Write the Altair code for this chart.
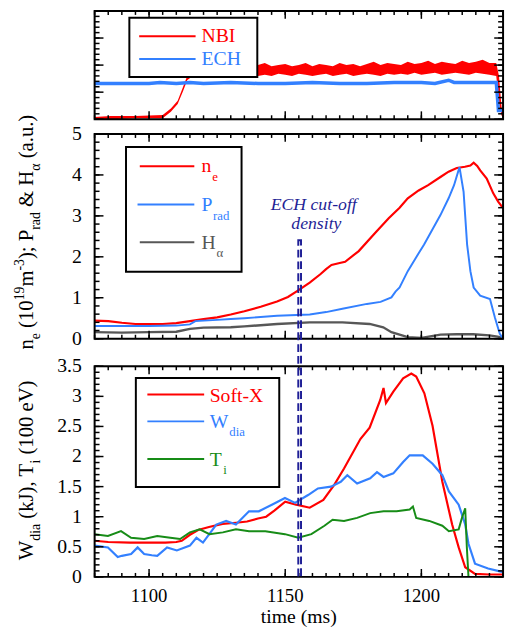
import altair as alt
import pandas as pd

FONT = "Liberation Serif"
RED, BLUE, GRAY, GREEN, NAVY = "#ff0000", "#3380ff", "#575757", "#178c17", "#1f1f96"

# ---------------- data ----------------
NBI_T = [1080, 1086, 1095, 1105, 1108, 1110.5, 1112.5, 1114, 1116,
         1117.5, 1120, 1122.5, 1125, 1127.5, 1130, 1132.5, 1135, 1137.5, 1140,
         1142.5, 1145, 1147.5, 1150, 1152.5, 1155, 1157.5, 1160, 1162.5, 1165,
         1167.5, 1170, 1172.5, 1175, 1177.5, 1180, 1182.5, 1185, 1187.5, 1190,
         1192.5, 1195, 1197.5, 1200, 1202.5, 1205, 1207.5, 1210, 1212.5, 1215,
         1217.5, 1220, 1222.5, 1225, 1227.5,
         1228.5, 1229.5, 1230]
NBI_LO = [0.00, 0.00, 0.01, 0.01, 0.07, 0.14, 0.26, 0.36, 0.40,
          0.41, 0.40, 0.42, 0.40, 0.41, 0.39, 0.41, 0.40, 0.42, 0.40,
          0.41, 0.40, 0.42, 0.41, 0.40, 0.42, 0.41, 0.40, 0.41, 0.42,
          0.40, 0.41, 0.42, 0.40, 0.41, 0.42, 0.41, 0.40, 0.42, 0.41,
          0.42, 0.41, 0.43, 0.41, 0.42, 0.43, 0.41, 0.42, 0.43, 0.42,
          0.41, 0.43, 0.42, 0.41, 0.40,
          0.15, 0.03, 0.02]
NBI_HI = [0.02, 0.03, 0.03, 0.04, 0.10, 0.17, 0.30, 0.40, 0.47,
          0.49, 0.51, 0.48, 0.50, 0.52, 0.49, 0.50, 0.51, 0.48, 0.50,
          0.52, 0.49, 0.50, 0.51, 0.49, 0.50, 0.52, 0.49, 0.51, 0.50,
          0.49, 0.52, 0.50, 0.51, 0.49, 0.51, 0.53, 0.50, 0.52, 0.51,
          0.50, 0.53, 0.51, 0.52, 0.54, 0.51, 0.53, 0.52, 0.51, 0.54,
          0.52, 0.53, 0.55, 0.52, 0.52,
          0.40, 0.10, 0.06]
ECH_T = [1080, 1090, 1100, 1104, 1110, 1115, 1120, 1130, 1140, 1150,
         1160, 1170, 1180, 1190, 1200, 1205, 1210, 1212, 1220, 1227.5,
         1228.3, 1230]
ECH_V = [0.33, 0.33, 0.33, 0.34, 0.33, 0.34, 0.33, 0.34, 0.33, 0.33,
         0.34, 0.33, 0.33, 0.34, 0.34, 0.33, 0.36, 0.34, 0.34, 0.34,
         0.08, 0.08]

NE_T = [1080, 1085, 1090, 1095, 1100, 1105, 1110, 1115, 1120, 1125,
        1130, 1135, 1141, 1147, 1151, 1154.5, 1159, 1163, 1165, 1167,
        1170, 1172, 1177, 1183, 1188, 1192, 1195, 1199, 1202.5, 1207,
        1210, 1213, 1216, 1218, 1219.2, 1220.5, 1221.6, 1224, 1226.4, 1228.2,
        1230]
NE_V = [0.44, 0.43, 0.39, 0.36, 0.36, 0.36, 0.38, 0.43, 0.48, 0.52,
        0.59, 0.67, 0.78, 0.91, 1.02, 1.17, 1.37, 1.58, 1.70, 1.80,
        1.85, 1.88, 2.14, 2.58, 2.94, 3.20, 3.43, 3.62, 3.75, 3.95,
        4.08, 4.17, 4.20, 4.23, 4.30, 4.22, 4.11, 3.91, 3.55, 3.35,
        3.19]
PRAD_T = [1080, 1090, 1100, 1110, 1115, 1117, 1125, 1130, 1135, 1147,
          1159, 1165, 1171, 1180, 1185, 1189, 1190.5, 1192, 1195, 1198,
          1201, 1204, 1207, 1210, 1212, 1214, 1215.5, 1216.8, 1218, 1219.2,
          1221.6, 1225.2, 1227, 1228.8, 1230]
PRAD_V = [0.31, 0.31, 0.31, 0.32, 0.35, 0.43, 0.46, 0.48, 0.50, 0.56,
          0.59, 0.65, 0.73, 0.85, 0.90, 1.01, 1.15, 1.25, 1.65, 1.98,
          2.30, 2.66, 3.02, 3.43, 3.75, 4.19, 3.59, 2.30, 1.65, 1.25,
          1.05, 0.97, 0.52, 0.12, 0.0]
HA_T = [1080, 1090, 1100, 1110, 1115, 1120, 1130, 1135, 1147, 1159,
        1171, 1181, 1186, 1189, 1195, 1200, 1207, 1213, 1219, 1225,
        1228, 1230]
HA_V = [0.16, 0.15, 0.16, 0.17, 0.24, 0.27, 0.28, 0.30, 0.36, 0.40,
        0.40, 0.36, 0.28, 0.16, 0.04, 0.02, 0.10, 0.11, 0.11, 0.08,
        0.05, 0.02]

SX_T = [1080, 1085, 1093, 1100, 1106, 1110, 1112, 1115, 1118, 1122,
        1127, 1132, 1136, 1140, 1143, 1146, 1150, 1154, 1159, 1164,
        1168, 1171.6, 1177.6, 1181, 1184.9, 1186.1, 1187, 1189.7, 1193.3, 1196.3,
        1198.1, 1201.1, 1204.1, 1207.7, 1211.3, 1213.7, 1216.1, 1219.7, 1225, 1230]
SX_V = [0.60, 0.58, 0.57, 0.57, 0.57, 0.58, 0.60, 0.70, 0.78, 0.83,
        0.88, 0.90, 0.92, 0.97, 1.00, 1.10, 1.25, 1.20, 1.15, 1.28,
        1.53, 1.80, 2.29, 2.48, 2.94, 3.14, 2.89, 3.08, 3.30, 3.38,
        3.33, 3.05, 2.51, 1.58, 0.87, 0.49, 0.16, 0.05, 0.04, 0.04]
WD_T = [1080, 1084.9, 1088.5, 1090, 1093.4, 1095.8, 1098.2, 1101, 1103, 1106.6,
        1110.2, 1115, 1117.4, 1119.8, 1124.7, 1128.3, 1131.9, 1136.7, 1140.3, 1145.1,
        1149.9, 1153.6, 1158.4, 1162, 1166.8, 1170.4, 1172.8, 1176.4, 1181.2, 1183.7,
        1186.1, 1189.7, 1193.3, 1195.7, 1200.5, 1204.1, 1207.7, 1210.1, 1213.7, 1216.1,
        1217.3, 1219.7, 1224.5, 1230]
WD_V = [0.52, 0.49, 0.33, 0.35, 0.38, 0.49, 0.38, 0.36, 0.35, 0.49,
        0.44, 0.52, 0.65, 0.57, 0.87, 0.93, 0.87, 1.09, 1.09, 1.20,
        1.31, 1.23, 1.36, 1.47, 1.50, 1.58, 1.69, 1.55, 1.64, 1.74,
        1.66, 1.72, 1.91, 2.02, 2.02, 1.88, 1.69, 1.42, 1.20, 0.87,
        0.55, 0.22, 0.14, 0.08]
TI_T = [1080, 1084.9, 1089.7, 1093.4, 1098.2, 1103, 1107.8, 1111.4, 1115, 1118.6,
        1122.2, 1127.1, 1131.9, 1136.7, 1142.7, 1149.9, 1154.8, 1159.6, 1164.4, 1167.4,
        1171.6, 1176.4, 1181.2, 1186.1, 1190.9, 1195.7, 1196.9, 1198.1, 1202.9, 1207.7,
        1210.1, 1213.7, 1214.9, 1216.1, 1216.7, 1217.3, 1230]
TI_V = [0.71, 0.68, 0.76, 0.65, 0.63, 0.68, 0.65, 0.63, 0.74, 0.79,
        0.71, 0.74, 0.79, 0.76, 0.76, 0.71, 0.65, 0.71, 0.85, 0.95,
        0.93, 0.98, 1.06, 1.09, 1.09, 1.12, 1.17, 0.98, 0.93, 0.85,
        0.76, 0.79, 0.98, 1.14, 0.49, 0.0, 0.0]

CUTOFF_T = [1154.8, 1155.8]

X_DOMAIN = [1080, 1230]
X_MINOR = list(range(1080, 1231, 5))
X_MAJOR = [1100, 1150, 1200]
X_MAJOR_LABELS = ["1100", "1150", "1200"]
Y_TOP_MINOR = [round(i * 0.05, 2) for i in range(21)]
Y_TOP_MAJOR = [0, 0.25, 0.5, 0.75, 1]
Y_MID_MINOR = [round(i * 0.2, 2) for i in range(26)]
Y_MID_MAJOR = [0, 1, 2, 3, 4, 5]
Y_MID_LABELS = ["0", "1", "2", "3", "4", "5"]
Y_BOT_MINOR = [round(i * 0.1, 2) for i in range(36)]
Y_BOT_MAJOR = [0, 0.5, 1, 1.5, 2, 2.5, 3, 3.5]
Y_BOT_LABELS = ["0", "0.5", "1", "1.5", "2", "2.5", "3", "3.5"]

# ---------------- layout ----------------
W = 415
H_TOP = 110
H_MID_PLOT = 208
H_MID = 221
H_BOT = 214

XS = alt.Scale(domain=X_DOMAIN, nice=False, zero=False)
YS_TOP = alt.Scale(domain=[0, 1], nice=False, zero=False)
YS_MID = alt.Scale(domain=[0, 5], range=[H_MID_PLOT, 0], nice=False, zero=False)
YS_BOT = alt.Scale(domain=[0, 3.5], nice=False, zero=False)

ONE = pd.DataFrame({"k": [0]})
TICK_W = 1.5  # px


def tick_layers(name, h_plot, yscale, yspan, ymajor, yminor):
    """Inward ticks on all four edges as thin filled rects placed through the scales."""
    out = []
    hx = (TICK_W / 2.0) * (X_DOMAIN[1] - X_DOMAIN[0]) / W
    hy = (TICK_W / 2.0) * yspan / h_plot
    for kind, vals, s in (("M", X_MAJOR, 8), ("m", X_MINOR, 4)):
        df = pd.DataFrame({"a": [v - hx for v in vals], "b": [v + hx for v in vals],
                           "p": [name + "x" + kind] * len(vals)})
        for y0, y1 in ((h_plot, h_plot - s), (0, s)):
            out.append(alt.Chart(df).mark_rect(color="black", opacity=1).encode(
                x=alt.X("a:Q", scale=XS, axis=None), x2="b:Q",
                y=alt.value(y0), y2=alt.value(y1)))
    for kind, vals, s in (("M", ymajor, 9), ("m", yminor, 5)):
        df = pd.DataFrame({"a": [v - hy for v in vals], "b": [v + hy for v in vals],
                           "p": [name + "y" + kind] * len(vals)})
        for x0, x1 in ((0, s), (W, W - s)):
            out.append(alt.Chart(df).mark_rect(color="black", opacity=1).encode(
                y=alt.Y("a:Q", scale=yscale, axis=None), y2="b:Q",
                x=alt.value(x0), x2=alt.value(x1)))
    return out


def y_label_layer(vals, labels, yscale):
    df = pd.DataFrame({"v": vals, "lab": labels})
    return alt.Chart(df).mark_text(font=FONT, fontSize=20, color="black", align="right",
                                   baseline="middle").encode(
        y=alt.Y("v:Q", scale=yscale, axis=None), x=alt.value(-13), text="lab:N")


def x_label_layer(h):
    df = pd.DataFrame({"t": X_MAJOR, "lab": X_MAJOR_LABELS})
    return alt.Chart(df).mark_text(font=FONT, fontSize=19, color="black", align="center",
                                   baseline="alphabetic").encode(
        x=alt.X("t:Q", scale=XS, axis=None), y=alt.value(h + 26), text="lab:N")


def txt(text, x, y, size, color="black", angle=0, align="left", italic=False):
    return alt.Chart(ONE).mark_text(
        text=text, font=FONT, fontSize=size, color=color, align=align,
        baseline="alphabetic", angle=angle, fontStyle="italic" if italic else "normal"
    ).encode(x=alt.value(x), y=alt.value(y))


def rule(x1, x2, y, color, width=2):
    return alt.Chart(ONE).mark_rule(color=color, strokeWidth=width).encode(
        x=alt.value(x1), x2=alt.value(x2), y=alt.value(y))


def box(x1, x2, y1, y2):
    return alt.Chart(ONE).mark_rect(fill="white", stroke="black", strokeWidth=2).encode(
        x=alt.value(x1), x2=alt.value(x2), y=alt.value(y1), y2=alt.value(y2))


def frame(h):
    return alt.Chart(ONE).mark_rect(fillOpacity=0, stroke="black", strokeWidth=2).encode(
        x=alt.value(0), x2=alt.value(W), y=alt.value(0), y2=alt.value(h))


WID = {" ": 250, "(": 333, ")": 333, "n": 500, "e": 444, "m": 778, "-": 333, ";": 278,
       ",": 250, "P": 556, "r": 333, "a": 444, "d": 500, "&": 778, "H": 722, "\u03b1": 530,
       ".": 250, "u": 500, "W": 944, "i": 278, "k": 500, "J": 389, "T": 611, "V": 722}
for _d in "0123456789":
    WID[_d] = 500


def tw(s, size):
    return sum(WID.get(c, 500) for c in s) * size / 1000.0


def rotated_title(pieces, xb, y0):
    out = []
    y = y0
    for text, kind in pieces:
        size = 21 if kind == "m" else 14
        dx = 0 if kind == "m" else (7 if kind == "sub" else -9)
        lead = len(text) - len(text.lstrip(" "))
        core = text.strip(" ")
        out.append(txt(core, xb + dx, y - tw(" " * lead, size), size, angle=270))
        y -= tw(text, size)
    return out


def line(t, v, color, width, yscale):
    df = pd.DataFrame({"t": t, "v": v})
    return alt.Chart(df).mark_line(color=color, strokeWidth=width, clip=True).encode(
        x=alt.X("t:Q", scale=XS, axis=None),
        y=alt.Y("v:Q", scale=yscale, axis=None))


def panel(layers, h):
    return alt.layer(*layers).properties(width=W, height=h)


# ---------------- top panel ----------------
df_nbi = pd.DataFrame({"t": NBI_T, "lo": NBI_LO, "hi": NBI_HI})
nbi = alt.Chart(df_nbi).mark_area(color=RED, clip=True).encode(
    x=alt.X("t:Q", scale=XS, axis=None),
    y=alt.Y("lo:Q", scale=YS_TOP, axis=None),
    y2="hi:Q")
ech = line(ECH_T, ECH_V, BLUE, 3.5, YS_TOP)
top_legend = [
    box(35.3, 165.3, 7, 67),
    rule(45.3, 102.6, 25.7, RED), txt("NBI", 108.6, 31.3, 20, RED),
    rule(45.3, 102.6, 48.7, BLUE), txt("ECH", 108.6, 54.7, 20, BLUE),
]
top = panel([nbi, ech, *tick_layers("top", H_TOP, YS_TOP, 1.0, Y_TOP_MAJOR, Y_TOP_MINOR),
             frame(H_TOP), *top_legend], H_TOP)

# ---------------- middle panel ----------------
ne = line(NE_T, NE_V, RED, 2.2, YS_MID)
ha = line(HA_T, HA_V, GRAY, 2.4, YS_MID)
prad = line(PRAD_T, PRAD_V, BLUE, 2, YS_MID)
mid_legend = [
    box(31.9, 149.3, 13.3, 140),
    rule(45.9, 101.3, 32.7, RED), txt("n", 108.6, 38.3, 20, RED), txt("e", 119.6, 47.3, 13, RED),
    rule(43.6, 101.3, 71.7, BLUE), txt("P", 108.6, 78.3, 20, BLUE), txt("rad", 120.3, 87.3, 13, BLUE),
    rule(45.9, 101.3, 110, GRAY), txt("H", 108.6, 117.3, 20, GRAY), txt("\u03b1", 123.8, 125, 13, GRAY),
]
mid_title = rotated_title(
    [("n", "m"), ("e", "sub"), (" (10", "m"), ("19", "sup"), ("m", "m"), ("-3", "sup"),
     ("); P", "m"), ("rad", "sub"), (" & H", "m"), ("\u03b1", "sub"), (" (a.u.)", "m")],
    -62.4, 219)
cut_text = [
    txt("ECH cut-off", 222.6, 77, 18, NAVY, align="center", italic=True),
    txt("density", 225.3, 97, 18, NAVY, align="center", italic=True),
]
gap_cover = alt.Chart(ONE).mark_rect(fill="white", strokeWidth=0).encode(
    x=alt.value(-2), x2=alt.value(W + 3), y=alt.value(H_MID_PLOT + 1.5), y2=alt.value(H_MID + 3))
mid = panel([gap_cover, ne, ha, prad,
             *tick_layers("mid", H_MID_PLOT, YS_MID, 5.0, Y_MID_MAJOR, Y_MID_MINOR),
             y_label_layer(Y_MID_MAJOR, Y_MID_LABELS, YS_MID),
             frame(H_MID_PLOT), *mid_legend, *mid_title, *cut_text], H_MID)

# ---------------- bottom panel ----------------
sx = line(SX_T, SX_V, RED, 2.2, YS_BOT)
wd = line(WD_T, WD_V, BLUE, 2.2, YS_BOT)
ti = line(TI_T, TI_V, GREEN, 2, YS_BOT)
bot_legend = [
    box(41.9, 187.6, 12, 122.7),
    rule(53.6, 111.3, 28.7, RED), txt("Soft-X", 116.9, 36, 20, RED),
    rule(53.6, 111.3, 56, BLUE), txt("W", 116.9, 62.7, 20, BLUE), txt("dia", 136.8, 71, 13, BLUE),
    rule(53.6, 111.3, 94.3, GREEN), txt("T", 116.9, 101, 20, GREEN), txt("i", 130.6, 109.3, 13, GREEN),
]
bot_title = rotated_title(
    [("W", "m"), ("dia", "sub"), (" (kJ), T", "m"), ("i", "sub"), (" (100 eV)", "m")],
    -62.4, 197)
x_title = txt("time (ms)", W / 2, H_BOT + 47, 20, align="center")
df_cut = pd.DataFrame({"t0": [CUTOFF_T[0]], "t1": [CUTOFF_T[1]]})
cut_rect = alt.Chart(df_cut).mark_rect(
    fillOpacity=0, stroke=NAVY, strokeWidth=2, strokeDash=[8, 4], clip=False
).encode(x=alt.X("t0:Q", scale=XS, axis=None), x2="t1:Q",
         y=alt.value(H_BOT), y2=alt.value(-128))
bot = panel([sx, wd, ti, *tick_layers("bot", H_BOT, YS_BOT, 3.5, Y_BOT_MAJOR, Y_BOT_MINOR),
             y_label_layer(Y_BOT_MAJOR, Y_BOT_LABELS, YS_BOT), x_label_layer(H_BOT), x_title,
             frame(H_BOT), *bot_legend, *bot_title, cut_rect], H_BOT)

chart = alt.vconcat(top, mid, bot, spacing=15, bounds="flush").properties(
    padding={"left": 5, "top": -4, "right": 0, "bottom": 0}
).configure_view(stroke=None).configure(background="white")

chart.save("out.html", embed_options={"renderer": "svg", "actions": False})
